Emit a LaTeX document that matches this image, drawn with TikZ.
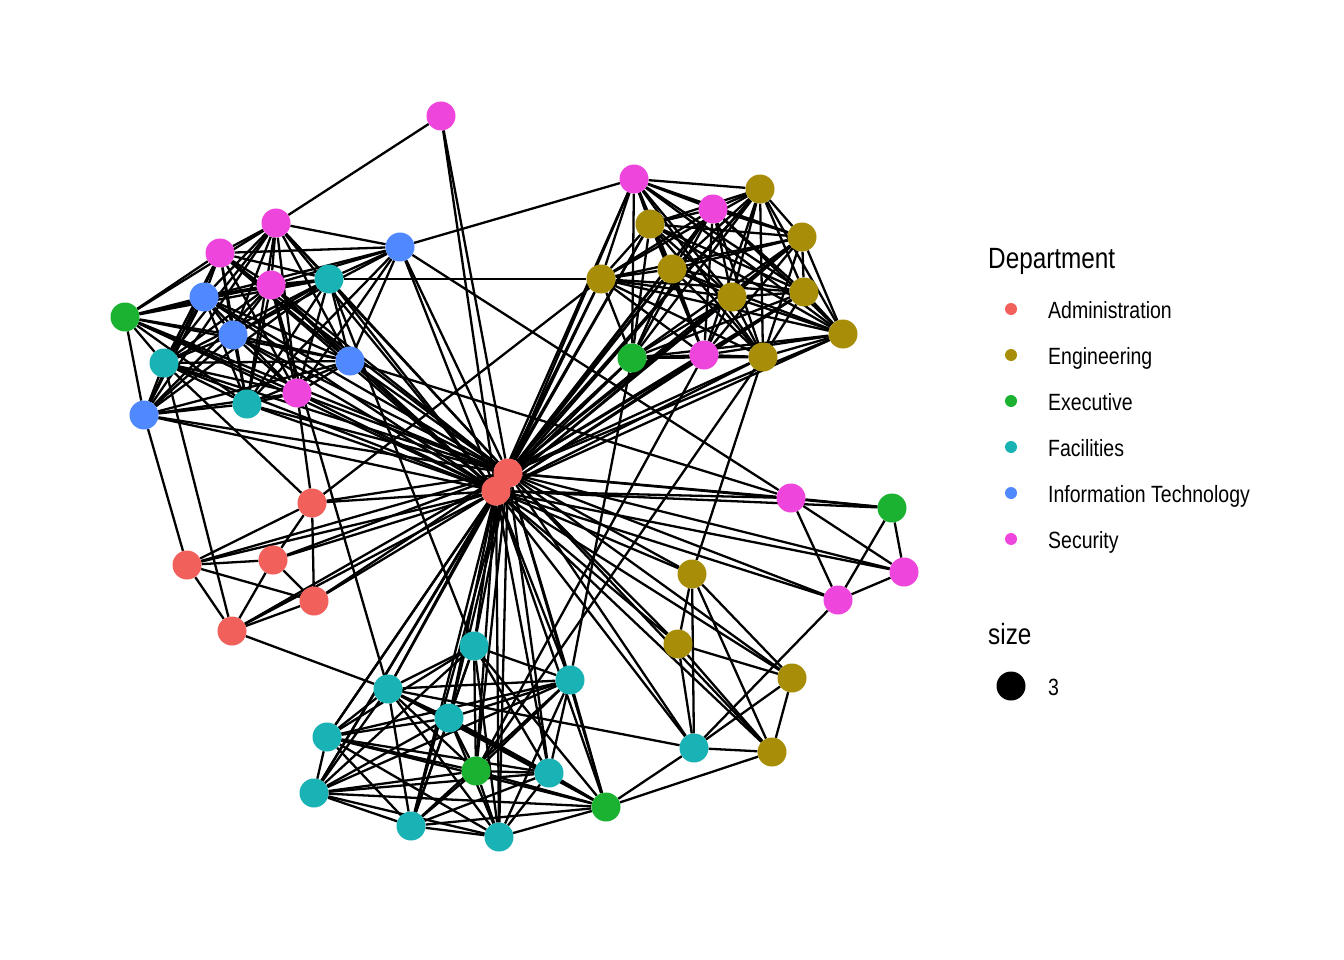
\documentclass[tikz,border=0pt]{standalone}
\usepackage{fontspec}
\newfontfamily\legendfont[FakeStretch=0.83]{Liberation Sans}
\usetikzlibrary{backgrounds}

\definecolor{adm}{RGB}{242,96,92}
\definecolor{eng}{RGB}{168,142,8}
\definecolor{exe}{RGB}{27,178,50}
\definecolor{fac}{RGB}{25,178,181}
\definecolor{itc}{RGB}{80,136,255}
\definecolor{sec}{RGB}{238,70,220}

\tikzset{
  vtx/.style={circle, inner sep=0pt, minimum size=29pt},
  edge/.style={line width=2.3pt, black},
  keydot/.style={circle, inner sep=0pt, minimum size=12pt},
  ttl/.style={anchor=base west, inner sep=0pt, font=\legendfont\fontsize{29.3}{32}\selectfont},
  lab/.style={anchor=base west, inner sep=0pt, font=\legendfont\fontsize{23.5}{26}\selectfont},
}

\def\tlgroup{s2,s3,s4,s5,i2,i3,i4,f1,f2,f3,e1,i5}
\def\trgroup{s6,s7,s8,g1,g2,g3,g4,g5,g6,g7,g8,g9,e2}
\def\btgroup{f4,f5,f6,f7,f8,f9,f10,f11,f12,e4,e5}

\begin{document}
\begin{tikzpicture}[x=1pt,y=-1pt]
  \useasboundingbox (0,0) rectangle (1344,960);

  % vertices
  \foreach \n/\x/\y/\c in {
    s1/441/116/sec, s2/276/223/sec, s3/220/253/sec, s4/271/285/sec, s5/297/393/sec,
    s6/634/179/sec, s7/713/209/sec, s8/704/355/sec, s9/791/498/sec, s10/904/572/sec, s11/838/600/sec,
    i1/400/247/itc, i2/204/297/itc, i3/233/335/itc, i4/350/361/itc, i5/144/415/itc,
    f1/329/279/fac, f2/164/363/fac, f3/247/404/fac, f4/474/646/fac, f5/570/680/fac,
    f6/388/689/fac, f7/449/718/fac, f8/327/737/fac, f9/549/773/fac, f10/314/793/fac,
    f11/411/826/fac, f12/499/837/fac, f13/694/748/fac,
    e1/125/317/exe, e2/632/358/exe, e3/892/508/exe, e4/476/771/exe, e5/606/807/exe,
    g1/760/189/eng, g2/650/224/eng, g3/802/237/eng, g4/672/269/eng, g5/601/279/eng,
    g6/732/297/eng, g7/804/292/eng, g8/843/334/eng, g9/763/357/eng, g10/692/574/eng,
    g11/678/644/eng, g12/792/678/eng, g13/772/752/eng,
    a3/312/503/adm, a4/187/565/adm, a5/273/560/adm, a6/314/601/adm, a7/232/631/adm,
    a1/508/473/adm, a2/496/491/adm}
    \node[vtx, fill=\c] (\n) at (\x,\y) {};

  \begin{scope}[on background layer]
    \fill[white] (0,0) rectangle (1344,960);
    % hub
    \draw[edge] (a1) -- (a2);
    \foreach \u in {s1,s2,s3,s4,s5,s6,s7,s8,s9,s10,s11,i1,i2,i3,i4,i5,
      f1,f2,f3,f4,f5,f6,f7,f8,f9,f10,f11,f12,f13,e1,e2,e3,e4,e5,
      g1,g2,g3,g4,g5,g6,g7,g8,g9,g10,g11,g12,g13,a3,a4,a5,a6,a7}{
      \draw[edge] (a1) -- (\u);
      \draw[edge] (a2) -- (\u);
    }
    % clusters
    \foreach \u [count=\ka] in \tlgroup
      \foreach \v [count=\kb] in \tlgroup
        {\ifnum\kb>\ka \draw[edge] (\u) -- (\v); \fi}
    \foreach \u [count=\ka] in \trgroup
      \foreach \v [count=\kb] in \trgroup
        {\ifnum\kb>\ka \draw[edge] (\u) -- (\v); \fi}
    \foreach \u [count=\ka] in \btgroup
      \foreach \v [count=\kb] in \btgroup
        {\ifnum\kb>\ka \draw[edge] (\u) -- (\v); \fi}
    \foreach \v in {s2,s3,s4,s5,i2,i3,i4,f1,f3,s6,s9}
      \draw[edge] (i1) -- (\v);
    \draw[edge] (s1) -- (s2);
    \draw[edge] (f1) -- (g5);
    \draw[edge] (g5) -- (a3);
    \draw[edge] (i4) -- (s9);
    % right side
    \draw[edge] (s9) -- (s10) (s9) -- (e3) (s9) -- (s11);
    \draw[edge] (s10) -- (e3) (s10) -- (s11) (e3) -- (s11);
    \draw[edge] (g10) -- (g11) (g10) -- (g12) (g10) -- (g13);
    \draw[edge] (g11) -- (g12) (g11) -- (g13) (g12) -- (g13);
    \foreach \v in {g10,g11,g12,g13,f6,e5,s11}
      \draw[edge] (f13) -- (\v);
    \draw[edge] (g13) -- (e5);
    \draw[edge] (g10) -- (g9);
    \draw[edge] (g9) -- (e4);
    \draw[edge] (s8) -- (e4);
    \draw[edge] (e2) -- (f5);
    % admin
    \draw[edge] (a3) -- (a4) (a3) -- (a5) (a3) -- (a6);
    \draw[edge] (a4) -- (a5) (a4) -- (a6) (a4) -- (a7);
    \draw[edge] (a5) -- (a6) (a5) -- (a7) (a6) -- (a7);
    \draw[edge] (s5) -- (a3);
    \draw[edge] (f2) -- (a3);
    \draw[edge] (f2) -- (a7);
    \draw[edge] (i5) -- (a4);
    \draw[edge] (a7) -- (f6);
    \draw[edge] (s4) -- (f6);
    \draw[edge] (f1) -- (f4);
  \end{scope}

  % legend
  \node[ttl] (dept) at (988,269) {Department};
  \foreach \c/\t [count=\k] in {adm/Administration, eng/Engineering, exe/Executive,
    fac/Facilities, itc/Information Technology, sec/Security}{
    \node[keydot, fill=\c] (key\k) at (1011,{263+46*\k}) {};
    \node[lab] (lab\k) at (1048,{272+46*\k}) {\t};
  }
  \node[ttl] (sz) at (988,644) {size};
  \node[vtx, fill=black] (szdot) at (1011,686) {};
  \node[lab] (szlab) at (1048,695) {3};
\end{tikzpicture}
\end{document}
